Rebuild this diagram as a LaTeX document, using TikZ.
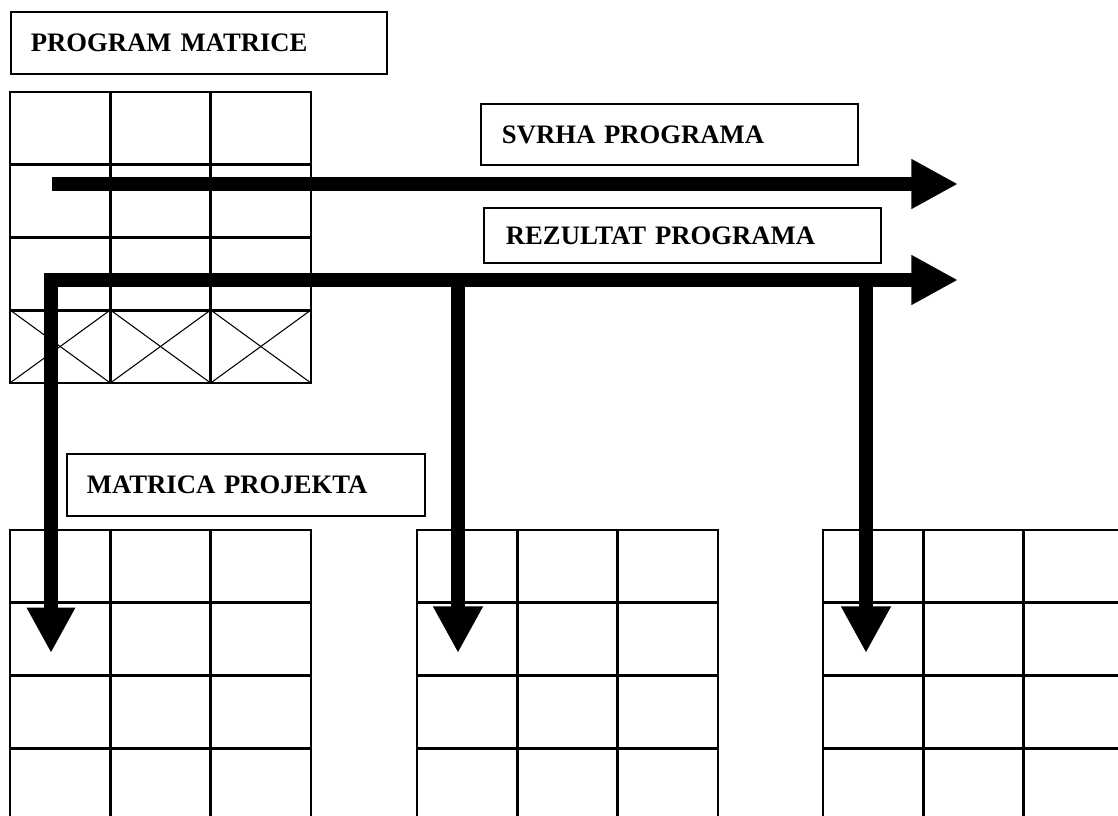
\documentclass[tikz,border=0pt]{standalone}
\usepackage{fontspec}
\setmainfont{Liberation Serif}
\usetikzlibrary{arrows.meta}

\tikzset{
  mreza/.style={line width=2pt,line cap=rect},
  kriz/.style={line width=0.8pt},
  kutija/.style={draw,line width=1.4pt,anchor=north west,align=left,
    font=\bfseries\fontsize{20}{24}\selectfont},
  strelica/.style={line width=10.5pt,line join=miter,
    -{Triangle[length=35pt,width=35pt]}},
  dvostruka/.style={strelica,
    {Triangle[length=34pt,width=34pt]}-{Triangle[length=35pt,width=35pt]}}
}

\begin{document}
\begin{tikzpicture}[x=0.75pt,y=-0.75pt]
    \useasboundingbox (0,0) rectangle (1118,816);
    \clip (0,0) rectangle (1118,816);

    % program matrica
    \foreach \i in {0,...,3}
      \draw[mreza] ({10+100.33*\i},92) -- ++(0,291);
    \foreach \j in {0,...,4}
      \draw[mreza] (10,{92+72.75*\j}) -- ++(301,0);
    \foreach \i in {0,1,2} {
      \draw[kriz] ({10+100.33*\i},310) -- ++(100.33,73);
      \draw[kriz] ({10+100.33*\i},383) -- ++(100.33,-73);
    }

    % matrice projekata
    \foreach \x in {10,417,823} {
      \foreach \i in {0,...,3}
        \draw[mreza] ({\x+100.33*\i},530) -- ++(0,300);
      \foreach \j in {0,...,3}
        \draw[mreza] (\x,{530+72.75*\j}) -- ++(301,0);
    }

    % strelice
    \coordinate (svrha) at (52,184);
    \coordinate (svrhakraj) at (958,184);
    \coordinate (dole1) at (51,653);
    \coordinate (rezkraj) at (958,280);
    \coordinate (grana2) at (458,280);
    \coordinate (dole2) at (458,653);
    \coordinate (grana3) at (866,280);
    \coordinate (dole3) at (866,653);
    \draw[strelica] (svrha) -- (svrhakraj);
    \draw[dvostruka] (dole1) |- (rezkraj);
    \draw[strelica] (grana2) -- (dole2);
    \draw[strelica] (grana3) -- (dole3);

    % natpisi
    \node[kutija,minimum width=282pt,minimum height=46.5pt,
      inner xsep=15pt,text width=252pt] (progmat) at (10,11) {PROGRAM MATRICE};
    \node[kutija,minimum width=282.75pt,minimum height=45.75pt,
      inner xsep=15.75pt,text width=251.25pt] (svrhaprog) at (480,103) {SVRHA PROGRAMA};
    \node[kutija,minimum width=297.75pt,minimum height=41.25pt,
      inner xsep=16.5pt,text width=264.75pt] (rezprog) at (483,207) {REZULTAT PROGRAMA};
    \node[kutija,minimum width=268.5pt,minimum height=46.5pt,
      inner xsep=15pt,text width=238.5pt] (matproj) at (66,453) {MATRICA PROJEKTA};
  \end{tikzpicture}
\end{document}
